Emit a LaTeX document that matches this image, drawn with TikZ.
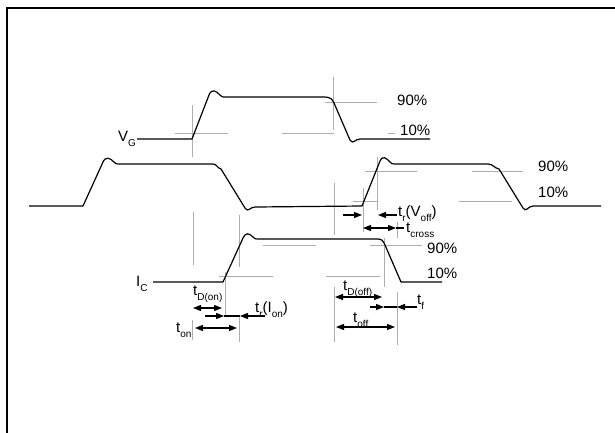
\documentclass[tikz,border=0pt]{standalone}
\usepackage{fontspec}
\setmainfont{Liberation Sans}
\usetikzlibrary{arrows.meta}
\newcommand{\lowsub}[1]{\raisebox{-5pt}{\fontsize{10}{10}\selectfont #1}}
\begin{document}
\begin{tikzpicture}[
x=1pt, y=-1pt,
waveline/.style={draw=black, line width=1.2pt, line join=round},
guideline/.style={draw=black!32, line width=0.9pt},
timearrow/.style={draw=black, line width=1.2pt, -{Triangle[length=8pt,width=6pt]}},
timedouble/.style={draw=black, line width=1.2pt, {Triangle[length=8pt,width=6pt]}-{Triangle[length=8pt,width=6pt]}},
pctlabel/.style={font=\fontsize{15}{18}\selectfont, inner sep=0pt, anchor=base west},
timelabel/.style={font=\fontsize{15}{18}\selectfont, inner sep=0pt, anchor=base west},
]
\useasboundingbox (0,0) rectangle (615,432);
%Frame
\draw[line width=2.5pt] (7,433) -- (7,8) -- (616,8);

%Guide lines
\draw[guideline] (192,105) -- (192,157);
\draw[guideline] (175,133) -- (228,133);
\draw[guideline] (333,77) -- (333,130);
\draw[guideline] (325,102) -- (377,102);
\draw[guideline] (282,133) -- (334,133);
\draw[guideline] (388,133) -- (395,133);
\draw[guideline] (193,212) -- (193,265);
\draw[guideline] (239,215) -- (239,267);
\draw[guideline] (334,183) -- (334,235);
\draw[guideline] (363,188) -- (363,232);
\draw[guideline] (377,157) -- (377,210);
\draw[guideline] (365,171) -- (417,171);
\draw[guideline] (353,201) -- (377,201);
\draw[guideline] (472,171) -- (523,171);
\draw[guideline] (459,201) -- (512,201);
\draw[guideline] (263,245) -- (316,245);
\draw[guideline] (219,276) -- (273,276);
\draw[guideline] (225,272) -- (225,317);
\draw[guideline] (370,245) -- (422,245);
\draw[guideline] (326,276) -- (380,276);
\draw[guideline] (384,238) -- (384,287);
\draw[guideline] (397,222) -- (397,238);
\draw[guideline] (192,320) -- (192,340);
\draw[guideline] (239,317) -- (239,342);
\draw[guideline] (334,287) -- (334,342);
\draw[guideline] (397,292) -- (397,345);

%Waveforms
\draw[waveline] (137,139) -- (192,139) -- (209,95) .. controls (212,88) and (216,91) .. (220,95)
  .. controls (222,97) .. (226,97) -- (323,97) .. controls (331,97) and (332,99) .. (334,103)
  -- (350,140) .. controls (353,145) and (355,139) .. (360,139) -- (430,139);
\draw[waveline] (29,206) -- (83,206) -- (103,162) .. controls (106,156) and (110,158) .. (114,162)
  .. controls (116,164) .. (119,164) -- (213,164) .. controls (217,164) and (217,168) .. (221,169)
  -- (245,208) .. controls (248,213) and (250,207) .. (255,207) -- (362,206)
  -- (380,161) .. controls (383,155) and (386,158) .. (390,162) .. controls (392,164) .. (395,164)
  -- (488,164) .. controls (493,164) and (494,168) .. (499,169) -- (523,208)
  .. controls (526,213) and (528,206) .. (533,206) -- (601,206);
\draw[waveline] (153,282) -- (223,282) -- (243,238) .. controls (246,232) and (249,233) .. (253,237)
  .. controls (255,239) .. (258,239) -- (378,239) .. controls (382,239) and (383,241) .. (385,245)
  -- (401,282) -- (442,282);

%Time arrows
\draw[timearrow] (343,215) -- (362,215);
\draw[timearrow] (397,215) -- (378,215);
\draw[timedouble] (363,228) -- (396,228);
\draw[draw=black, line width=1.2pt] (396,228) -- (404,228);
\draw[timedouble] (193,308) -- (222,308);
\draw[timearrow] (205,316) -- (224,316);
\draw[draw=black, line width=1.2pt] (224,316) -- (240,316);
\draw[timearrow] (265,316) -- (240,316);
\draw[timedouble] (195,328) -- (237,328);
\draw[timedouble] (335,297) -- (382,297);
\draw[timearrow] (370,307) -- (384,307);
\draw[draw=black, line width=1.2pt] (384,307) -- (397,307);
\draw[timearrow] (417,307) -- (397,307);
\draw[timedouble] (336,327) -- (395,327);

%Nodes
\node[pctlabel] (vg_high) at (397,105) {90\%};
\node[pctlabel] (vg_low) at (400,135) {10\%};
\node[pctlabel] (vce_high) at (538,171) {90\%};
\node[pctlabel] (vce_low) at (538,197) {10\%};
\node[pctlabel] (ic_high) at (427,253) {90\%};
\node[pctlabel] (ic_low) at (427,278) {10\%};
\node[timelabel] (vg_name) at (118,141) {V\lowsub{G}};
\node[timelabel] (ic_name) at (136,286) {I\lowsub{C}};
\node[timelabel] (t_rise_voff) at (398,216) {t\lowsub{r}(V\lowsub{off})};
\node[timelabel] (t_cross) at (406,232) {t\lowsub{cross}};
\node[timelabel] (t_delay_on) at (193,295) {t\lowsub{D(on)}};
\node[timelabel] (t_rise_ion) at (255,312) {t\lowsub{r}(I\lowsub{on})};
\node[timelabel] (t_on) at (176,332) {t\lowsub{on}};
\node[timelabel] (t_delay_off) at (343,290) {t\lowsub{D(off)}};
\node[timelabel] (t_fall) at (417,304) {t\lowsub{f}};
\node[timelabel] (t_off) at (353,322) {t\lowsub{off}};

\end{tikzpicture}
\end{document}
